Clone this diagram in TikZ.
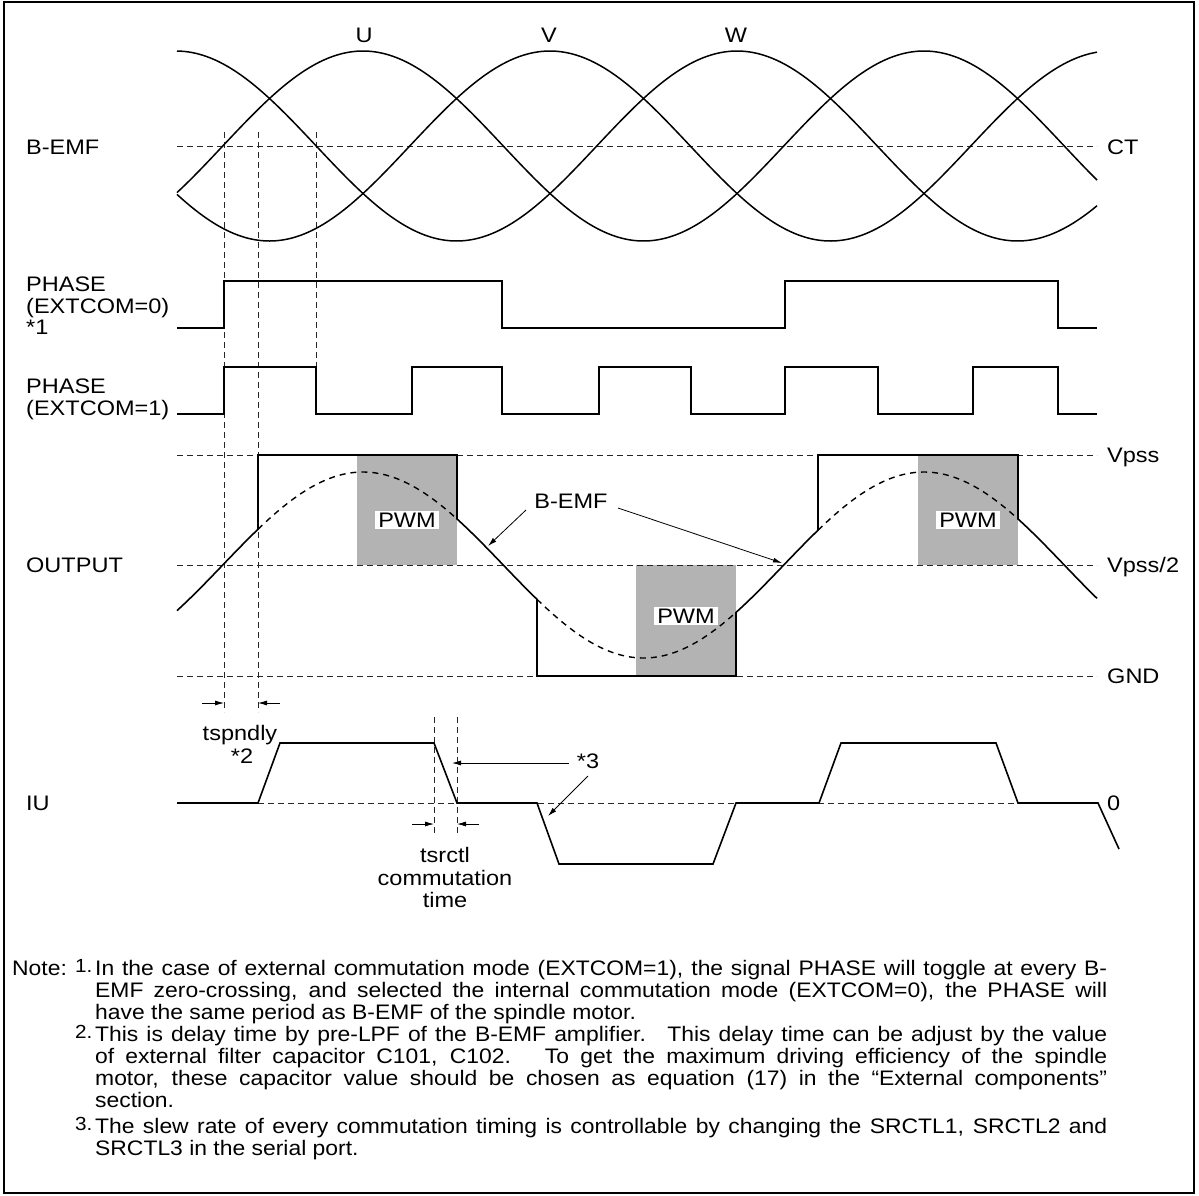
\documentclass[tikz,border=0pt]{standalone}
\usepackage{fontspec}
\setmainfont{Liberation Sans}[FakeStretch=1.12]
\newfontfamily\notefont{Liberation Sans}[FakeStretch=1.09]
\usetikzlibrary{arrows.meta}
\definecolor{pwmgray}{RGB}{179,179,179}
\begin{document}
\begin{tikzpicture}[x=1pt,y=-1pt,
 declare function={fo(\x)=565-93*cos(0.641711*(\x-363));
                   bu(\x)=146-95*cos(0.641711*(\x-363));
                   bv(\x)=146-95*cos(0.641711*(\x-550));
                   bw(\x)=146-95*cos(0.641711*(\x-737));},
 sig/.style={line width=1.6pt},
 sine/.style={line width=1.5pt},
 guide/.style={line width=0.8pt, black!85, dash pattern=on 6pt off 4pt},
 dcurve/.style={line width=1.4pt, dash pattern=on 6pt off 5pt},
 txt/.style={font=\fontsize{21}{23}\selectfont, inner sep=0pt},
 lbl/.style={txt, anchor=base west},
 ctr/.style={txt, anchor=base},
 pwmlbl/.style={txt, fill=white, inner xsep=3pt, inner ysep=2pt},
 arr/.style={line width=0.8pt, -{Latex[length=9pt,width=5pt]}},
 notetxt/.style={font=\notefont\fontsize{21}{23}\selectfont, inner sep=0pt, anchor=base west},
 notenum/.style={font=\notefont\fontsize{19}{20}\selectfont, inner sep=0pt, anchor=base west},
]
\useasboundingbox (0,0) rectangle (1199,1195);
\fill[white] (0,0) rectangle (1199,1195);
\draw[line width=1.2pt] (4,2) rectangle (1194,1193);

% PWM areas
\fill[pwmgray] (357,455) rectangle (457,565);
\fill[pwmgray] (636,565) rectangle (736,676);
\fill[pwmgray] (918,455) rectangle (1018,565);

% guide lines
\draw[guide] (177,146) -- (1097,146);
\draw[guide] (177,455) -- (1097,455);
\draw[guide] (177,565) -- (1097,565);
\draw[guide] (177,676) -- (1097,676);
\draw[guide] (258,803) -- (1098,803);
\draw[guide] (224,132) -- (224,712);
\draw[guide] (258,132) -- (258,712);
\draw[guide] (316,132) -- (316,367);
\draw[guide] (434,717) -- (434,835);
\draw[guide] (457,717) -- (457,835);

% B-EMF sines
\draw[sine] plot[domain=177:1097,samples=160,smooth] (\x,{bu(\x)});
\draw[sine] plot[domain=177:1097,samples=160,smooth] (\x,{bv(\x)});
\draw[sine] plot[domain=177:1097,samples=160,smooth] (\x,{bw(\x)});

% PHASE (EXTCOM=0)
\draw[sig] (177,328) -- (224,328) -- (224,281) -- (502,281) -- (502,328) -- (785,328)
  -- (785,281) -- (1058,281) -- (1058,328) -- (1097,328);
% PHASE (EXTCOM=1)
\draw[sig] (177,414) -- (224,414) -- (224,367) -- (316,367) -- (316,414) -- (412,414)
  -- (412,367) -- (502,367) -- (502,414) -- (599,414) -- (599,367) -- (691,367)
  -- (691,414) -- (785,414) -- (785,367) -- (878,367) -- (878,414) -- (973,414)
  -- (973,367) -- (1058,367) -- (1058,414) -- (1097,414);

% OUTPUT
\draw[sig] plot[domain=177:258,samples=30] (\x,{fo(\x)}) -- (258,455) -- (457,455)
  -- plot[domain=457:537,samples=30] (\x,{fo(\x)}) -- (537,676) -- (736,676)
  -- plot[domain=736:818,samples=30] (\x,{fo(\x)}) -- (818,455) -- (1018,455)
  -- plot[domain=1018:1097,samples=30] (\x,{fo(\x)});
\draw[dcurve] plot[domain=258:457,samples=60] (\x,{fo(\x)});
\draw[dcurve] plot[domain=537:736,samples=60] (\x,{fo(\x)});
\draw[dcurve] plot[domain=818:1018,samples=60] (\x,{fo(\x)});

% IU
\draw[sig] (177,803) -- (258,803) -- (280,743) -- (434,743) -- (457,803) -- (537,803)
  -- (559,864) -- (713,864) -- (736,803) -- (819,803) -- (841,743) -- (996,743)
  -- (1018,803) -- (1098,803) -- (1119,849);

% PWM labels
\node[pwmlbl] (pwm1) at (407,520) {PWM};
\node[pwmlbl] (pwm2) at (686,616) {PWM};
\node[pwmlbl] (pwm3) at (968,520) {PWM};

% phase letters
\node[ctr] (lu) at (364,42) {U};
\node[ctr] (lv) at (549,42) {V};
\node[ctr] (lw) at (736,42) {W};

% left labels
\node[lbl] (lbemf) at (26,154) {B-EMF};
\node[lbl] (lph0a) at (26,291) {PHASE};
\node[lbl] (lph0b) at (26,313) {(EXTCOM=0)};
\node[lbl] (lph0c) at (26,334) {*1};
\node[lbl] (lph1a) at (26,393) {PHASE};
\node[lbl] (lph1b) at (26,415) {(EXTCOM=1)};
\node[lbl] (lout) at (26,572) {OUTPUT};
\node[lbl] (liu) at (26,810) {IU};

% right labels
\node[lbl] (rct) at (1107,154) {CT};
\node[lbl] (rvpss) at (1107,462) {Vpss};
\node[lbl] (rvh) at (1107,572) {Vpss/2};
\node[lbl] (rgnd) at (1107,683) {GND};
\node[lbl] (rzero) at (1107,810) {0};

% B-EMF callout
\node[ctr] (bemf) at (571,508) {B-EMF};
\coordinate (b1s) at (526,510);
\coordinate (b1e) at (488,546);
\coordinate (b2s) at (618,508);
\coordinate (b2e) at (782,563);
\draw[arr] (b1s) -- (b1e);
\draw[arr] (b2s) -- (b2e);

% tspndly
\coordinate (ts1s) at (202,703);
\coordinate (ts1e) at (224,703);
\coordinate (ts2s) at (280,703);
\coordinate (ts2e) at (258,703);
\draw[arr] (ts1s) -- (ts1e);
\draw[arr] (ts2s) -- (ts2e);
\node[ctr] (tsp) at (240,740) {tspndly};
\node[ctr] (st2) at (242,763) {*2};

% tsrctl
\coordinate (tr1s) at (412,824);
\coordinate (tr1e) at (434,824);
\coordinate (tr2s) at (479,824);
\coordinate (tr2e) at (457,824);
\draw[arr] (tr1s) -- (tr1e);
\draw[arr] (tr2s) -- (tr2e);
\node[ctr] (tsr) at (445,862) {tsrctl};
\node[ctr] (tcom) at (445,885) {commutation};
\node[ctr] (ttime) at (445,907) {time};

% *3
\node[ctr] (st3) at (588,768) {*3};
\coordinate (s3as) at (569,763);
\coordinate (s3ae) at (452,763);
\coordinate (s3bs) at (588,776);
\coordinate (s3be) at (548,816);
\draw[arr] (s3as) -- (s3ae);
\draw[arr] (s3bs) -- (s3be);

% notes
\node[notetxt] (note) at (12,975) {Note:};
\node[notenum] (n1) at (75,972) {1.};
\node[notetxt] (n1a) at (95,975) {\makebox[1012pt][s]{In the case of external commutation mode (EXTCOM=1), the signal PHASE will toggle at every B-}};
\node[notetxt] (n1b) at (95,997) {\makebox[1012pt][s]{EMF zero-crossing, and selected the internal commutation mode (EXTCOM=0), the PHASE will}};
\node[notetxt] (n1c) at (95,1019) {have the same period as B-EMF of the spindle motor.};
\node[notenum] (n2) at (75,1038) {2.};
\node[notetxt] (n2a) at (95,1041) {\makebox[1012pt][s]{This is delay time by pre-LPF of the B-EMF amplifier. \ This delay time can be adjust by the value}};
\node[notetxt] (n2b) at (95,1063) {\makebox[1012pt][s]{of external filter capacitor C101, C102. \ To get the maximum driving efficiency of the spindle}};
\node[notetxt] (n2c) at (95,1085) {\makebox[1012pt][s]{motor, these capacitor value should be chosen as equation (17) in the “External components”}};
\node[notetxt] (n2d) at (95,1107) {section.};
\node[notenum] (n3) at (75,1130) {3.};
\node[notetxt] (n3a) at (95,1133) {\makebox[1012pt][s]{The slew rate of every commutation timing is controllable by changing the SRCTL1, SRCTL2 and}};
\node[notetxt] (n3b) at (95,1155) {SRCTL3 in the serial port.};
\end{tikzpicture}
\end{document}
